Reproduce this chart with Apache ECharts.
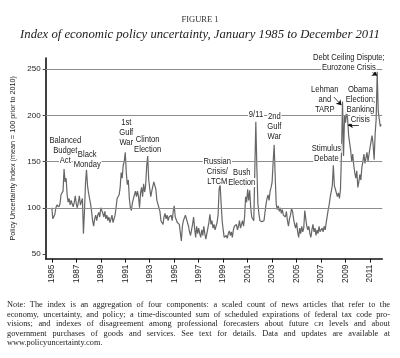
<!DOCTYPE html>
<html>
<head>
<meta charset="utf-8">
<script src="https://cdn.jsdelivr.net/npm/echarts@6/dist/echarts.min.js"></script>
<style>
  html, body { margin: 0; padding: 0; background: #fff; }
  #chart { position: absolute; left: 0; top: 0; width: 400px; height: 358px; }
  #note { position: absolute; left: 7px; top: 300px; width: 383px; font-family: 'Liberation Serif', serif; font-size: 8.3px; line-height: 9.6px; color: #222; }
  #note div { text-align: justify; text-align-last: justify; white-space: nowrap; }
  #note div.last { text-align: left; text-align-last: left; }
  .sc { font-variant: small-caps; }
</style>
</head>
<body>
<div id="chart"></div>
<div id="note">
  <div>Note: The index is an aggregation of four components: a scaled count of news articles that refer to the</div>
  <div>economy, uncertainty, and policy; a time-discounted sum of scheduled expirations of federal tax code pro-</div>
  <div>visions; and indexes of disagreement among professional forecasters about future <span class="sc">cpi</span> levels and about</div>
  <div>government purchases of goods and services. See text for details. Data and updates are available at</div>
  <div class="last">www.policyuncertainty.com.</div>
</div>
<script>
// ---- Data (monthly, January 1985 – December 2011) ----
const startYear = 1985;
const indexValues = [
  // 1985
  100, 88, 86, 93, 100, 103, 102, 101, 104, 114, 112, 118,
  // 1986
  142, 128, 132, 114, 106, 110, 103, 108, 104, 101, 106, 113,
  // 1987
  104, 100, 106, 113, 103, 104, 110, 72, 96, 126, 141, 124,
  // 1988
  116, 110, 104, 96, 86, 80, 88, 92, 86, 92, 95, 90,
  // 1989
  100, 97, 94, 90, 96, 88, 92, 86, 90, 84, 88, 92,
  // 1990
  84, 82, 92, 100, 110, 108, 114, 122, 138, 132, 146, 150,
  // 1991
  160, 138, 125, 130, 110, 100, 97, 105, 110, 108, 118, 112,
  // 1992
  118, 112, 100, 116, 122, 112, 126, 117, 124, 145, 156, 130,
  // 1993
  128, 112, 118, 120, 128, 130, 120, 108, 104, 100, 96, 86,
  // 1994
  84, 82, 90, 94, 88, 92, 86, 90, 88, 92, 86, 96,
  // 1995
  102, 90, 88, 84, 86, 82, 84, 64, 80, 86, 84, 92,
  // 1996
  88, 84, 80, 74, 70, 76, 82, 90, 78, 68, 80, 72,
  // 1997
  78, 72, 68, 76, 70, 80, 72, 66, 68, 78, 84, 93,
  // 1998
  82, 86, 78, 82, 76, 80, 84, 92, 120, 125, 104, 86,
  // 1999
  76, 68, 66, 70, 67, 72, 75, 70, 74, 68, 76, 80,
  // 2000
  78, 82, 76, 80, 86, 78, 82, 86, 80, 90, 112, 106,
  // 2001
  120, 108, 119, 100, 90, 88, 86, 88, 193, 144, 105, 94,
  // 2002
  86, 84, 85, 84, 86, 88, 104, 110, 114, 108, 118, 122,
  // 2003
  128, 150, 168, 134, 104, 98, 102, 96, 100, 94, 98, 92,
  // 2004
  94, 90, 96, 86, 80, 88, 92, 99, 96, 88, 82, 78,
  // 2005
  84, 74, 68, 78, 72, 80, 74, 78, 97, 88, 80, 76,
  // 2006
  80, 72, 68, 76, 82, 74, 78, 70, 76, 72, 80, 74,
  // 2007
  72, 78, 74, 80, 76, 84, 82, 98, 104, 112, 114, 124,
  // 2008
  146, 124, 120, 116, 112, 116, 110, 120, 160, 215, 156, 200,
  // 2009
  192, 205, 196, 178, 170, 162, 150, 158, 146, 138, 132, 140,
  // 2010
  122, 128, 136, 130, 144, 150, 158, 148, 154, 160, 150, 158,
  // 2011
  165, 172, 178, 168, 152, 180, 196, 247, 205, 196, 188, 190
];
const xTickYears = [1985, 1987, 1989, 1991, 1993, 1995, 1997, 1999, 2001, 2003, 2005, 2007, 2009, 2011];
const yTickValues = [50, 100, 150, 200, 250];
const gridValues = [100, 150, 200, 250];

// Event annotations: anchor (year, index value) of first text line
const annotations = [
  { x: 1986.1,  y: 172.5, lines: ['Balanced', 'Budget', 'Act'] },
  { x: 1987.89, y: 158.2, lines: ['Black', 'Monday'] },
  { x: 1991.08, y: 192,   lines: ['1st', 'Gulf', 'War'] },
  { x: 1992.83, y: 174,   lines: ['Clinton', 'Election'] },
  { x: 1998.52, y: 150.6, lines: ['Russian', 'Crisis/', 'LTCM'] },
  { x: 2000.52, y: 138,   lines: ['Bush', 'Election'] },
  { x: 2001.68, y: 200.5, lines: ['9/11'] },
  { x: 2003.18, y: 199,   lines: ['2nd', 'Gulf', 'War'] },
  { x: 2007.43, y: 164.4, lines: ['Stimulus', 'Debate'] },
  { x: 2007.3,  y: 228,   lines: ['Lehman', 'and', 'TARP'] },
  { x: 2010.21, y: 228,   lines: ['Obama', 'Election;', 'Banking', 'Crisis'] },
  { x: 2009.27, y: 262.6, lines: ['Debt Ceiling Dispute;', 'Eurozone Crisis'] }
];
// Arrows: from [year, value] to [year, value]
const arrows = [
  [[2008.04, 219.8], [2008.66, 211]],
  [[2010.08, 189.5], [2009.19, 189.5]],
  [[2011.2, 246.2], [2011.58, 243]]
];

const seriesData = indexValues.map((v, i) => [startYear + i / 12, v]);

const sans = "'Liberation Sans', Arial, sans-serif";
const chart = echarts.init(document.getElementById('chart'), null, { renderer: 'canvas' });
chart.setOption({
  animation: false,
  backgroundColor: '#fff',
  title: [
    { text: 'FIGURE 1', left: 'center', top: 10,
      textStyle: { fontFamily: "'Liberation Serif', serif", fontSize: 8.5, fontWeight: 'normal', color: '#333' } },
    { text: 'Index of economic policy uncertainty, January 1985 to December 2011', left: 'center', top: 23,
      textStyle: { fontFamily: "'Liberation Serif', serif", fontSize: 12.7, fontStyle: 'italic', fontWeight: 'normal', color: '#222' } }
  ],
  grid: { left: 45.7, right: 17.7, top: 58, bottom: 99.4, containLabel: false },
  xAxis: {
    type: 'value', min: 1984.5, max: 2012.0,
    axisLine: { show: true, lineStyle: { color: '#111', width: 1.6 } },
    axisTick: { show: true, customValues: xTickYears, length: 4, lineStyle: { color: '#111', width: 1 } },
    axisLabel: { customValues: xTickYears, rotate: 90, margin: 6, fontFamily: sans, fontSize: 8.3, color: '#222',
                 formatter: v => String(v) },
    splitLine: { show: false }
  },
  yAxis: {
    type: 'value', min: 45, max: 262,
    name: 'Policy Uncertainty Index (mean = 100 prior to 2010)',
    nameLocation: 'middle', nameGap: 18,
    nameTextStyle: { fontFamily: sans, fontSize: 7.2, color: '#222' },
    axisLine: { show: true, lineStyle: { color: '#111', width: 1.6 } },
    axisTick: { show: true, customValues: yTickValues, length: 3, lineStyle: { color: '#444' } },
    axisLabel: { customValues: yTickValues, margin: 5, fontFamily: sans, fontSize: 8, color: '#222',
                 formatter: v => String(v) },
    splitLine: { show: false }
  },
  series: [
    {
      type: 'line', data: [], z: 1, silent: true,
      markLine: {
        silent: true, symbol: ['none', 'none'], label: { show: false },
        lineStyle: { color: '#8c8c8c', width: 1, type: 'solid' },
        data: gridValues.map(v => ({ yAxis: v }))
      }
    },
    {
      type: 'line', data: seriesData, z: 2, showSymbol: false, symbol: 'none',
      lineStyle: { color: '#666', width: 1.2 },
      markLine: {
        silent: true, symbol: ['none', 'arrow'], symbolSize: 5, label: { show: false },
        lineStyle: { color: '#111', width: 0.8, type: 'solid' },
        data: arrows.map(a => [{ coord: a[0] }, { coord: a[1] }])
      }
    }
  ]
});

const graphics = [];
annotations.forEach(a => {
  const p = chart.convertToPixel({ gridIndex: 0 }, [a.x, a.y]);
  a.lines.forEach((t, i) => {
    graphics.push({
      type: 'text', x: p[0], y: p[1] + i * 10, scaleX: 0.82, z: 100, silent: true,
      style: { text: t, align: 'center', verticalAlign: 'middle', fontFamily: sans, fontSize: 9.3, fill: '#222',
               backgroundColor: '#fff', padding: [0, 1] }
    });
  });
});
chart.setOption({ graphic: graphics });
</script>
</body>
</html>
